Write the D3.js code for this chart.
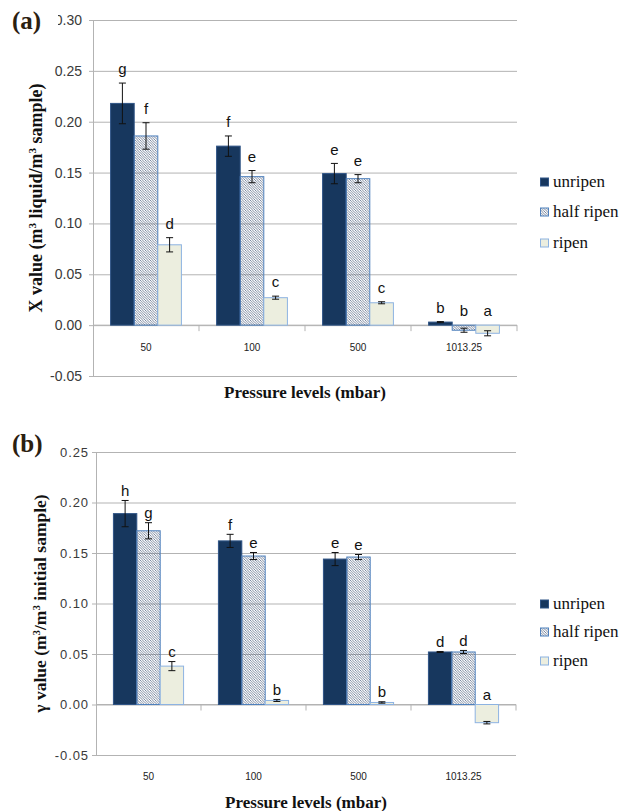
<!doctype html>
<html lang="en">
<head>
    <meta charset="UTF-8">
    <title>X and gamma values</title>
    <script src="https://d3js.org/d3.v7.min.js"></script>
    <style>
        body { margin: 0; background: #fff; }
        .legend text { font-family: "Liberation Serif", "Times New Roman", serif; }
    </style>
</head>
<body>
<div id="chart-area"></div>

<script>

// ---- data ----
const categories = ['50', '100', '500', '1013.25'];
const seriesNames = ['unripen', 'half ripen', 'ripen'];

// panel (a): X value
const xUnripen = [0.218, 0.176, 0.149, 0.003];
const xHalf    = [0.186, 0.146, 0.144, -0.005];
const xRipen   = [0.079, 0.027, 0.022, -0.008];
const xUnripenErr = [0.020, 0.010, 0.010, 0.0005];
const xHalfErr    = [0.013, 0.006, 0.004, 0.002];
const xRipenErr   = [0.007, 0.0015, 0.001, 0.0025];
const xUnripenLetters = ['g', 'f', 'e', 'b'];
const xHalfLetters    = ['f', 'e', 'e', 'b'];
const xRipenLetters   = ['d', 'c', 'c', 'a'];
const xTicks = [-0.05, 0, 0.05, 0.10, 0.15, 0.20, 0.25, 0.30];

// panel (b): gamma value
const gUnripen = [0.189, 0.162, 0.144, 0.052];
const gHalf    = [0.172, 0.147, 0.146, 0.052];
const gRipen   = [0.038, 0.004, 0.002, -0.018];
const gUnripenErr = [0.013, 0.0065, 0.0065, 0.0005];
const gHalfErr    = [0.008, 0.0035, 0.0025, 0.0015];
const gRipenErr   = [0.0045, 0.001, 0.0007, 0.0012];
const gUnripenLetters = ['h', 'f', 'e', 'd'];
const gHalfLetters    = ['g', 'e', 'e', 'd'];
const gRipenLetters   = ['c', 'b', 'b', 'a'];
const gTicks = [-0.05, 0, 0.05, 0.10, 0.15, 0.20, 0.25];

const W = 630, H = 811;

const svg = d3.select('#chart-area')
    .append('svg')
    .attr('width', W)
    .attr('height', H)
    .style('display', 'block');

svg.append('rect').attr('width', W).attr('height', H).attr('fill', '#fff');

// hatch for "half ripen"
const defs = svg.append('defs');
defs.append('pattern')
    .attr('id', 'hatch')
    .attr('patternUnits', 'userSpaceOnUse')
    .attr('width', 2.5)
    .attr('height', 2.5)
  .append('path')
    .attr('d', 'M-1,-1 L3.5,3.5 M-1,1.5 L1,3.5 M1.5,-1 L3.5,1')
    .attr('stroke', '#5a6a86')
    .attr('stroke-width', 0.8);

const fills = ['#17375e', 'url(#hatch)', '#eceedf'];
const strokes = ['#2f5486', '#4f81bd', '#8db3e2'];

const gridColor = '#b3b3b3';
const sans = '"Liberation Sans", Arial, sans-serif';
const serif = '"Liberation Serif", "Times New Roman", serif';

function drawPanel(cfg) {
    const y = d3.scaleLinear().domain(cfg.domain).range([cfg.bottom, cfg.top]);
    const x0 = d3.scaleBand().domain(categories).range([cfg.left, cfg.right]);
    const x1 = d3.scaleBand().domain(seriesNames).range([0, x0.bandwidth()])
        .paddingInner(0).paddingOuter(0.745);

    const g = svg.append('g');

    // gridlines
    const grid = g.append('g')
        .attr('transform', `translate(${cfg.left},0)`)
        .call(d3.axisLeft(y).tickValues(cfg.ticks).tickSize(-(cfg.right - cfg.left)).tickFormat(''));
    grid.select('.domain').remove();
    grid.selectAll('line').attr('stroke', gridColor);

    // left axis line + short outer ticks
    const yAx = g.append('g')
        .attr('transform', `translate(${cfg.left},0)`)
        .call(d3.axisLeft(y).tickValues(cfg.ticks).tickSize(4).tickSizeOuter(0)
            .tickPadding(cfg.tickPad).tickFormat(d => d.toFixed(2)));
    yAx.select('.domain').attr('stroke', gridColor);
    yAx.selectAll('line').attr('stroke', gridColor);
    yAx.selectAll('text')
        .attr('font-family', sans)
        .attr('font-size', cfg.tickFont)
        .attr('letter-spacing', cfg.tickSpacing)
        .attr('fill', '#3a3a3a');

    // zero line with category boundary ticks
    const y0 = y(0);
    g.append('line')
        .attr('x1', cfg.left).attr('x2', cfg.right)
        .attr('y1', y0).attr('y2', y0)
        .attr('stroke', gridColor);
    g.selectAll('.cat-tick')
        .data(categories)
        .join('line')
        .attr('class', 'cat-tick')
        .attr('x1', d => x0(d) + x0.step())
        .attr('x2', d => x0(d) + x0.step())
        .attr('y1', y0)
        .attr('y2', y0 + 6)
        .attr('stroke', gridColor);

    // category labels
    const labelY = cfg.catLabelLow ? cfg.bottom + 21 : y0 + 22;
    g.selectAll('.cat-label')
        .data(categories)
        .join('text')
        .attr('class', 'cat-label')
        .attr('x', d => x0(d) + x0.bandwidth() / 2)
        .attr('y', labelY)
        .attr('dy', '0.35em')
        .attr('text-anchor', 'middle')
        .attr('font-family', sans)
        .attr('font-size', 10)
        .attr('fill', '#222')
        .text(d => d);

    // bars
    const rows = [];
    cfg.series.forEach((vals, si) => {
        vals.forEach((v, ci) => {
            rows.push({
                cat: categories[ci],
                s: seriesNames[si],
                si: si,
                v: v,
                e: cfg.errors[si][ci],
                letter: cfg.letters[si][ci]
            });
        });
    });

    g.selectAll('.bar')
        .data(rows)
        .join('rect')
        .attr('class', 'bar')
        .attr('x', d => x0(d.cat) + x1(d.s))
        .attr('y', d => y(Math.max(0, d.v)))
        .attr('width', x1.bandwidth())
        .attr('height', d => Math.abs(y(d.v) - y(0)))
        .attr('fill', d => fills[d.si])
        .attr('stroke', d => strokes[d.si])
        .attr('stroke-width', 1);

    // error bars
    const eb = g.selectAll('.err')
        .data(rows)
        .join('g')
        .attr('class', 'err')
        .attr('transform', d => `translate(${x0(d.cat) + x1(d.s) + x1.bandwidth() / 2},0)`)
        .attr('stroke', '#111')
        .attr('stroke-width', 1);
    eb.append('line')
        .attr('y1', d => y(d.v + d.e))
        .attr('y2', d => y(d.v - d.e));
    eb.append('line')
        .attr('x1', -3.5).attr('x2', 3.5)
        .attr('y1', d => y(d.v + d.e))
        .attr('y2', d => y(d.v + d.e));
    eb.append('line')
        .attr('x1', -3.5).attr('x2', 3.5)
        .attr('y1', d => y(d.v - d.e))
        .attr('y2', d => y(d.v - d.e));

    // significance letters
    g.selectAll('.letter')
        .data(rows)
        .join('text')
        .attr('class', 'letter')
        .attr('x', d => x0(d.cat) + x1(d.s) + x1.bandwidth() / 2)
        .attr('y', d => y(Math.max(0, d.v + d.e)) - cfg.letterGap)
        .attr('dy', '0.35em')
        .attr('text-anchor', 'middle')
        .attr('font-family', sans)
        .attr('font-size', 15)
        .attr('fill', '#111')
        .text(d => d.letter);

    // y title
    const yt = g.append('text')
        .attr('transform', `translate(${cfg.yTitleX},${(cfg.top + cfg.bottom) / 2}) rotate(-90)`)
        .attr('text-anchor', 'middle')
        .attr('font-family', serif)
        .attr('font-weight', 'bold')
        .attr('font-size', cfg.yTitleFont)
        .attr('fill', '#111');
    cfg.yTitle.forEach(p => {
        const t = yt.append('tspan').text(p.t);
        if (p.sup) t.attr('baseline-shift', 'super').attr('font-size', cfg.yTitleFont * 0.62);
    });

    // x title
    g.append('text')
        .attr('x', (cfg.left + cfg.right) / 2)
        .attr('y', cfg.xTitleY)
        .attr('text-anchor', 'middle')
        .attr('font-family', serif)
        .attr('font-weight', 'bold')
        .attr('font-size', 17)
        .attr('fill', '#111')
        .text('Pressure levels (mbar)');

    // panel tag
    g.append('rect')
        .attr('x', 8).attr('y', cfg.tagY - 14)
        .attr('width', cfg.tagBoxW).attr('height', 26)
        .attr('fill', '#fff');
    g.append('text')
        .attr('x', 12)
        .attr('y', cfg.tagY)
        .attr('dy', '0.35em')
        .attr('font-family', serif)
        .attr('font-weight', 'bold')
        .attr('font-size', 25)
        .attr('fill', '#2b2010')
        .text(cfg.tag);

    // legend
    const leg = g.selectAll('.legend')
        .data(seriesNames)
        .join('g')
        .attr('class', 'legend')
        .attr('transform', (d, i) => `translate(540,${cfg.legendY[i]})`);
    leg.append('rect')
        .attr('x', 0.5).attr('y', -4)
        .attr('width', 8).attr('height', 8)
        .attr('fill', (d, i) => fills[i])
        .attr('stroke', (d, i) => strokes[i]);
    leg.append('text')
        .attr('x', 13)
        .attr('dy', '0.32em')
        .attr('font-size', 17)
        .attr('fill', '#111')
        .text(d => d);
}

drawPanel({
    tag: '(a)', tagY: 20, tagBoxW: 50,
    domain: [-0.05, 0.30], ticks: xTicks,
    top: 20, bottom: 376, left: 93, right: 517,
    tickPad: 7, tickFont: 14, tickSpacing: 0,
    series: [xUnripen, xHalf, xRipen],
    errors: [xUnripenErr, xHalfErr, xRipenErr],
    letters: [xUnripenLetters, xHalfLetters, xRipenLetters],
    letterGap: 14,
    catLabelLow: false,
    yTitleX: 42, yTitleFont: 18,
    yTitle: [{ t: 'X value (m' }, { t: '3', sup: true }, { t: ' liquid/m' }, { t: '3', sup: true }, { t: ' sample)' }],
    xTitleY: 398,
    legendY: [182, 212, 243]
});

drawPanel({
    tag: '(b)', tagY: 443, tagBoxW: 0,
    domain: [-0.05, 0.25], ticks: gTicks,
    top: 452, bottom: 755, left: 96, right: 516,
    tickPad: 3, tickFont: 13, tickSpacing: 0.9,
    series: [gUnripen, gHalf, gRipen],
    errors: [gUnripenErr, gHalfErr, gRipenErr],
    letters: [gUnripenLetters, gHalfLetters, gRipenLetters],
    letterGap: 10,
    catLabelLow: true,
    yTitleX: 46, yTitleFont: 17.5,
    yTitle: [{ t: 'γ value (m' }, { t: '3', sup: true }, { t: '/m' }, { t: '3', sup: true }, { t: ' initial sample)' }],
    xTitleY: 808,
    legendY: [604, 632, 661]
});

</script>

</body>
</html>
